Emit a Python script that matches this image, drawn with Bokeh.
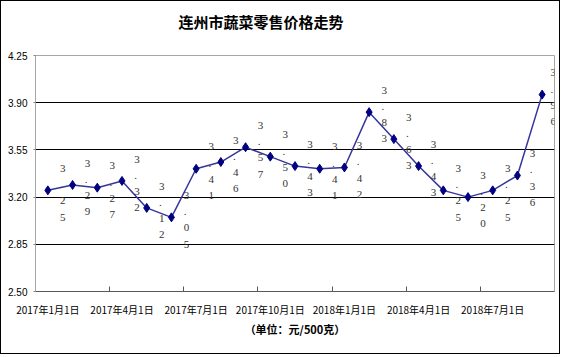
from bokeh.plotting import figure
from bokeh.models import FixedTicker, Range1d, ColumnDataSource, LabelSet, Title
from bokeh.embed import file_html
from bokeh.resources import INLINE

# ---- data ----
months = ["2017-01", "2017-02", "2017-03", "2017-04", "2017-05", "2017-06",
          "2017-07", "2017-08", "2017-09", "2017-10", "2017-11", "2017-12",
          "2018-01", "2018-02", "2018-03", "2018-04", "2018-05", "2018-06",
          "2018-07", "2018-08", "2018-09"]
prices = [3.25, 3.29, 3.27, 3.32, 3.12, 3.05, 3.41, 3.46, 3.57, 3.50, 3.43,
          3.41, 3.42, 3.83, 3.63, 3.43, 3.25, 3.20, 3.25, 3.36, 3.96]
x_tick_labels = ["2017年1月1日", "2017年4月1日", "2017年7月1日", "2017年10月1日",
                 "2018年1月1日", "2018年4月1日", "2018年7月1日"]
y_ticks = [2.50, 2.85, 3.20, 3.55, 3.90, 4.25]
y_tick_labels = ["2.50", "2.85", "3.20", "3.55", "3.90", "4.25"]
title_text = "连州市蔬菜零售价格走势"
unit_text = "（单位：元/500克）"

n = len(prices)
idx = list(range(n))
labels = ["\n".join(f"{v:.2f}") for v in prices]
offs = [15] * (n - 1) + [11]   # last label is pushed inside the plot area
src = ColumnDataSource(dict(x=idx, y=prices, lab=labels, xo=offs))

p = figure(width=560, height=354, output_backend="svg", toolbar_location=None,
           x_range=Range1d(-0.5, n - 0.5), y_range=Range1d(y_ticks[0], y_ticks[-1]),
           min_border_left=34, min_border_right=7, min_border_top=54, min_border_bottom=64)
p.styles = {"border": "1px solid #000000"}

p.title.text = title_text
p.title.text_font = "Noto Sans CJK SC"
p.title.text_font_size = "15px"
p.title.text_font_style = "bold"
p.title.text_color = "#000000"
p.title.align = "left"
p.title.offset = 143
p.title.standoff = 0
spacer = Title(text=" ", text_font_size="1px", standoff=21)
p.add_layout(spacer, "above")

p.outline_line_color = "#a6a6a6"
p.background_fill_color = "white"
p.border_fill_color = "white"

# grid
p.xgrid.visible = False
p.ygrid.ticker = FixedTicker(ticks=y_ticks[1:-1])
p.ygrid.grid_line_color = "#000000"
p.ygrid.grid_line_width = 1

# x axis
xa = p.xaxis[0]
xa.ticker = FixedTicker(ticks=[i for i in range(0, n, 3)],
                        minor_ticks=[i + 2.5 for i in range(0, n - 3, 3)])
xa.major_label_overrides = {i * 3: t for i, t in enumerate(x_tick_labels)}
xa.major_tick_line_color = None
xa.major_tick_in = 0
xa.major_tick_out = 0
xa.minor_tick_in = 5
xa.minor_tick_out = 0
xa.minor_tick_line_color = "#595959"
xa.axis_line_color = "#595959"
xa.major_label_standoff = 10
xa.major_label_text_font = "Noto Sans CJK SC"
xa.major_label_text_font_size = "10px"
xa.major_label_text_color = "#000000"
xa.axis_label = unit_text
xa.axis_label_text_font = "Noto Sans CJK SC"
xa.axis_label_text_font_size = "11px"
xa.axis_label_text_font_style = "bold"
xa.axis_label_text_color = "#000000"
xa.axis_label_standoff = 1

# y axis
ya = p.yaxis[0]
ya.ticker = FixedTicker(ticks=y_ticks)
ya.major_label_overrides = {t: s for t, s in zip(y_ticks, y_tick_labels)}
ya.axis_line_color = "#a6a6a6"
ya.major_tick_line_color = "#808080"
ya.major_tick_in = 0
ya.major_tick_out = 2
ya.minor_tick_line_color = None
ya.major_label_standoff = 6
ya.major_label_text_font = "Liberation Sans"
ya.major_label_text_font_size = "10px"
ya.major_label_text_color = "#000000"

# series
p.line("x", "y", source=src, line_color="#35359a", line_width=1.5)
p.scatter("x", "y", source=src, marker="diamond", size=9,
          fill_color="#000080", line_color="#000080")
ls = LabelSet(x="x", y="y", text="lab", source=src, x_offset="xo", y_offset=-2,
              text_font="Liberation Sans", text_font_size="11px",
              text_color="#333333", text_align="center", text_baseline="middle",
              text_line_height=1.35)
p.add_layout(ls)

open("out.html", "w").write(file_html(p, INLINE))
